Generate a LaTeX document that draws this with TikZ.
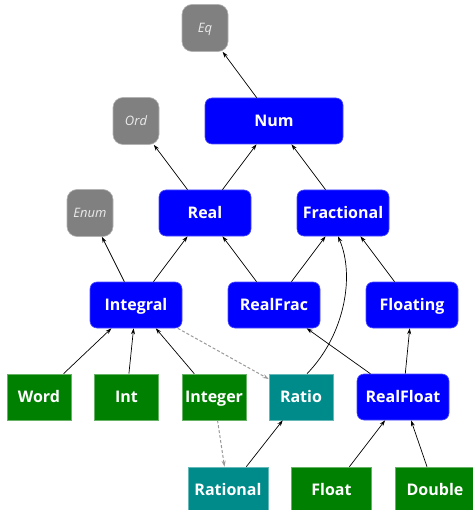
\documentclass[tikz,border=0pt]{standalone}
\usepackage{fontspec}
\setmainfont{Open Sans}
\usetikzlibrary{arrows.meta}
\definecolor{clsblue}{RGB}{0,0,255}
\definecolor{tygreen}{RGB}{0,128,0}
\definecolor{tyteal}{RGB}{0,139,139}
\definecolor{basegray}{RGB}{128,128,128}
\begin{document}
\begin{tikzpicture}[x=1pt, y=-1pt,
  box/.style={minimum height=46pt, inner sep=0pt, text=white, text height=11.6pt, text depth=0pt,
    font=\fontsize{16}{18}\selectfont\bfseries, line width=0.6pt},
  cls/.style={box, fill=clsblue, draw=clsblue!70!white, rounded corners=7pt, minimum width=92pt},
  base/.style={box, fill=basegray, draw=basegray!60!white, rounded corners=10pt,
    minimum width=46pt, minimum height=47pt, text=white!92!black, text height=9.3pt,
    font=\fontsize{13}{15}\selectfont\itshape},
  inst/.style={box, fill=tygreen, draw=tygreen!60!white, minimum width=64pt},
  alias/.style={box, fill=tyteal, draw=tyteal!60!white, minimum width=64pt},
  isa/.style={-{Stealth[length=6pt, width=4pt]}, line width=0.7pt},
  via/.style={isa, dash pattern=on 3pt off 2pt, draw=gray!80, line width=1pt,
    -{Stealth[length=6pt, width=4pt, gray!80]}}]
  \useasboundingbox (0,0) rectangle (472,510);
  \node[base] (eq) at (205,28) {Eq};
  \node[base] (ord) at (136,121) {Ord};
  \node[cls, minimum width=138pt] (num) at (274,121) {Num};
  \node[base] (enum) at (90,213) {Enum};
  \node[cls] (real) at (205,213) {Real};
  \node[cls] (fractional) at (343,213) {Fractional};
  \node[cls] (integral) at (136,305) {Integral};
  \node[cls] (realfrac) at (274,305) {RealFrac};
  \node[cls] (floating) at (412,305) {Floating};
  \node[inst] (word) at (39,397) {Word};
  \node[inst] (int) at (126.5,397) {Int};
  \node[inst] (integer) at (214,397) {Integer};
  \node[alias] (ratio) at (301,397) {Ratio};
  \node[cls] (realfloat) at (403,397) {RealFloat};
  \node[alias, minimum width=80pt] (rational) at (228,490) {Rational};
  \node[inst, minimum width=80pt] (float) at (331.5,490) {Float};
  \node[inst, minimum width=80pt] (double) at (435,490) {Double};
  \draw[isa] (num) -- (eq);
  \draw[isa] (real) -- (ord);
  \draw[isa] (real) -- (num);
  \draw[isa] (fractional) -- (num);
  \draw[isa] (integral) -- (enum);
  \draw[isa] (integral) -- (real);
  \draw[isa] (realfrac) -- (real);
  \draw[isa] (realfrac) -- (fractional);
  \draw[isa] (floating) -- (fractional);
  \draw[isa] ([xshift=6pt]ratio.north) .. controls +(38,-39) and +(17,39) .. ([xshift=-5pt]fractional.south);
  \draw[isa] (word) -- (integral);
  \draw[isa] (int) -- (integral);
  \draw[isa] (integer) -- (integral);
  \draw[isa] (realfloat) -- (realfrac);
  \draw[isa] (realfloat) -- (floating);
  \draw[isa] (rational) -- (ratio);
  \draw[isa] (float) -- (realfloat);
  \draw[isa] (double) -- (realfloat);
  \draw[via] (integral) -- (ratio);
  \draw[via] (integer) -- (rational);
\end{tikzpicture}
\end{document}
